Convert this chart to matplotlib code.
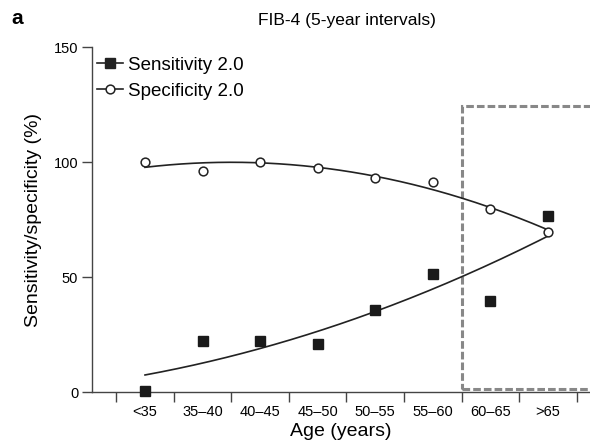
import matplotlib.pyplot as plt
import numpy as np
from matplotlib.patches import Rectangle

plt.rcParams['font.family'] = ['Liberation Sans', 'DejaVu Sans']

# Age groups (5-year intervals) and FIB-4 cut-off 2.0 performance (%)
age_groups = ["<35", "35–40", "40–45", "45–50", "50–55", "55–60", "60–65", ">65"]
sensitivity = [0.3, 22.0, 22.2, 20.7, 35.8, 51.4, 39.6, 76.6]
specificity = [100.0, 96.3, 99.8, 97.6, 93.0, 91.3, 79.6, 69.6]
y_ticks = [0, 50, 100, 150]

# Highlighted region: older age groups
box_start = 5.5
box_bottom = 1.3
box_top = 124.5

x = np.arange(len(age_groups))

fig = plt.figure(figsize=(5.9, 4.48), dpi=100)
ax = fig.add_axes([0.156, 0.125, 0.844, 0.77])

# Quadratic trend lines through each series
xs = np.linspace(x[0], x[-1], 200)
sens_fit = np.polyval(np.polyfit(x, sensitivity, 2), xs)
spec_fit = np.polyval(np.polyfit(x, specificity, 2), xs)
ax.plot(xs, sens_fit, color="#222222", lw=1.2, zorder=2)
ax.plot(xs, spec_fit, color="#222222", lw=1.2, zorder=2)

# Data points
ax.plot(x, sensitivity, ls="none", marker="s", ms=6.5, color="#1a1a1a",
        clip_on=False, zorder=4)
ax.plot(x, specificity, ls="none", marker="o", ms=6.3, mfc="white",
        mec="#222222", mew=1.1, clip_on=False, zorder=4)

# Legend handles (line + marker)
ax.plot([], [], color="#222222", lw=1.2, marker="s", ms=6.5,
        label="Sensitivity 2.0")
ax.plot([], [], color="#222222", lw=1.2, marker="o", ms=6.3, mfc="white",
        mew=1.1, label="Specificity 2.0")
ax.legend(loc="upper left", bbox_to_anchor=(-0.012, 1.005), frameon=False,
          fontsize=13.5, handlelength=1.35, handletextpad=0.3,
          labelspacing=0.48, borderaxespad=0.2)

# Dashed box over the older age groups
ax.add_patch(Rectangle((box_start, box_bottom), 10, box_top - box_bottom,
                       fill=False, ec="#888888", lw=2.2, ls=(0, (2.5, 1)),
                       zorder=1))

ax.set_xlim(-0.92, 7.73)
ax.set_ylim(0, 150)

# Category labels centred, tick marks between categories
ax.set_xticks(x)
ax.set_xticklabels(age_groups, fontsize=10.5)
ax.set_xticks(np.arange(-0.5, len(age_groups), 1.0), minor=True)
ax.tick_params(axis="x", which="major", length=0, pad=9)
ax.tick_params(axis="x", which="minor", length=7, width=1, color="#444444",
               direction="out")
ax.set_yticks(y_ticks)
ax.set_yticklabels([str(v) for v in y_ticks], fontsize=10.5)
ax.tick_params(axis="y", length=7, width=1, color="#444444", pad=3)

for side in ["top", "right"]:
    ax.spines[side].set_visible(False)
for side in ["left", "bottom"]:
    ax.spines[side].set_color("#444444")
    ax.spines[side].set_linewidth(1)

ax.set_xlabel("Age (years)", fontsize=14, labelpad=3)
ax.set_ylabel("Sensitivity/specificity (%)", fontsize=14, labelpad=8)

fig.text(0.588, 0.955, "FIB-4 (5-year intervals)", fontsize=12.5,
         ha="center", va="center")
fig.text(0.02, 0.958, "a", fontsize=15, fontweight="bold", ha="left",
         va="center")

plt.savefig("out.png", dpi=100)
